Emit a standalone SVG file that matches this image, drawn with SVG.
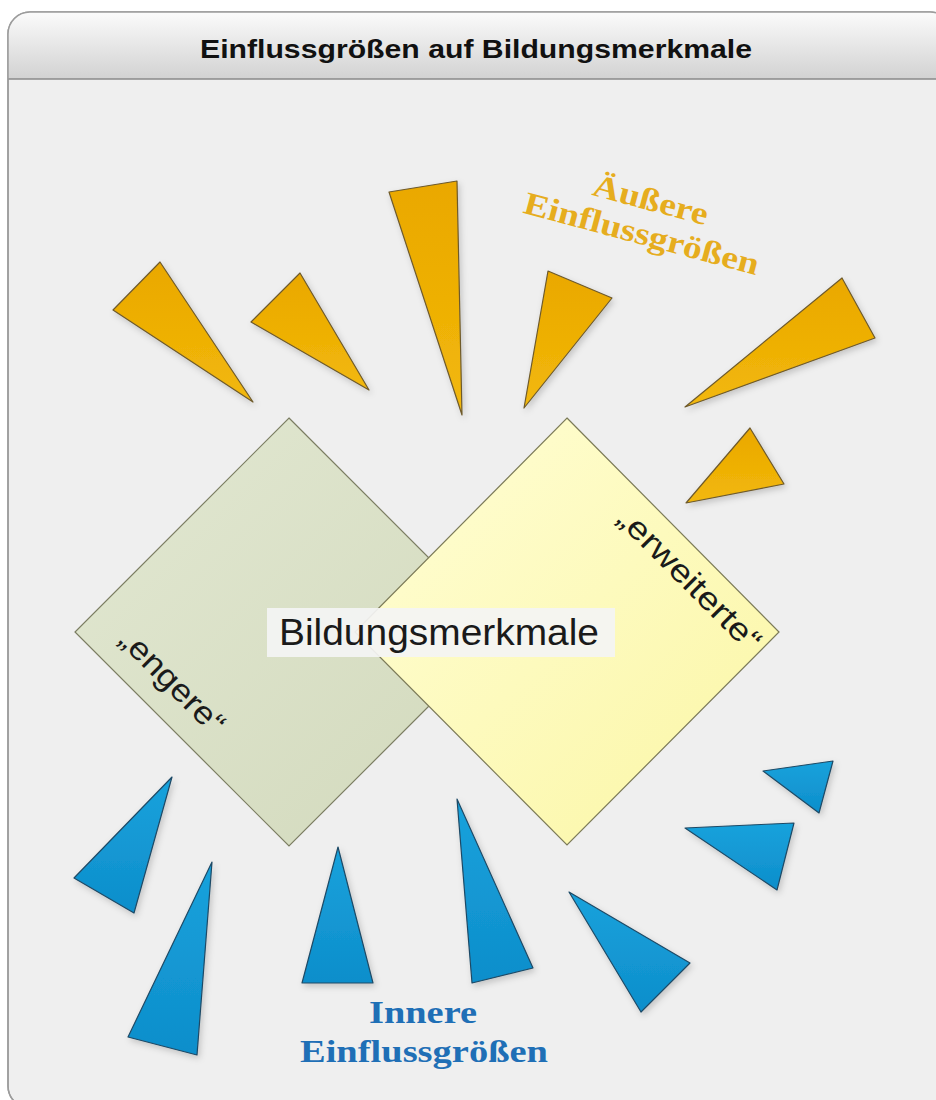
<svg xmlns="http://www.w3.org/2000/svg" width="936" height="1100" viewBox="0 0 936 1100">
  <style>
    .title { font-family: "Liberation Sans", Arial, sans-serif; font-weight: bold; font-size: 26px; fill: #111; }
    .center { font-family: "Liberation Sans", Arial, sans-serif; font-size: 36px; fill: #1a1a1a; }
    .side { font-family: "Liberation Sans", Arial, sans-serif; font-size: 32px; fill: #1a1a1a; }
    .outer { font-family: "Liberation Serif", "Times New Roman", serif; font-weight: bold; font-size: 32px; fill: #e6ad1e; }
    .inner { font-family: "Liberation Serif", "Times New Roman", serif; font-weight: bold; font-size: 32px; fill: #1f6fb6; }
    .tri-o { fill: url(#gOrange); stroke: #6e5a2c; stroke-width: 1.2; stroke-linejoin: round; filter: url(#shadow); }
    .tri-b { fill: url(#gBlue); stroke: #1e4a66; stroke-width: 1.2; stroke-linejoin: round; filter: url(#shadow); }
  </style>
  <defs>
    <linearGradient id="gHeader" x1="0" y1="0" x2="0" y2="1">
      <stop offset="0" stop-color="#fbfbfb"/>
      <stop offset="1" stop-color="#d2d2d2"/>
    </linearGradient>
    <linearGradient id="gGreen" x1="0" y1="0" x2="1" y2="1">
      <stop offset="0" stop-color="#e2e8d2"/>
      <stop offset="1" stop-color="#d2d9bc"/>
    </linearGradient>
    <linearGradient id="gYellow" x1="0" y1="0" x2="1" y2="1">
      <stop offset="0" stop-color="#fffed6"/>
      <stop offset="1" stop-color="#fbf6a4"/>
    </linearGradient>
    <linearGradient id="gOrange" x1="0" y1="0" x2="0" y2="1">
      <stop offset="0" stop-color="#eaa800"/>
      <stop offset="1" stop-color="#f2b80a"/>
    </linearGradient>
    <linearGradient id="gBlue" x1="0" y1="0" x2="0" y2="1">
      <stop offset="0" stop-color="#18a2dc"/>
      <stop offset="1" stop-color="#0e8ecb"/>
    </linearGradient>
    <filter id="shadow" x="-20%" y="-20%" width="140%" height="140%">
      <feDropShadow dx="2" dy="3" stdDeviation="3" flood-color="#000" flood-opacity="0.18"/>
    </filter>
    <clipPath id="frameClip">
      <rect x="8" y="12" width="944" height="1096" rx="22"/>
    </clipPath>
  </defs>

  <!-- page background -->
  <rect x="0" y="0" width="936" height="1100" fill="#ffffff"/>

  <!-- panel with header -->
  <g id="panel">
    <rect x="8" y="12" width="944" height="1096" rx="22" fill="#efefef" stroke="#9c9c9c" stroke-width="1.5"/>
    <g clip-path="url(#frameClip)">
      <rect x="8" y="12" width="944" height="67" fill="url(#gHeader)"/>
    </g>
    <line x1="8" y1="79" x2="936" y2="79" stroke="#8a8a8a" stroke-width="1.5"/>
    <rect x="8" y="12" width="944" height="1096" rx="22" fill="none" stroke="#9c9c9c" stroke-width="1.5"/>
    <text class="title" x="476" y="58" text-anchor="middle" textLength="552" lengthAdjust="spacingAndGlyphs">Einflussgrößen auf Bildungsmerkmale</text>
  </g>

  <!-- two overlapping squares -->
  <g id="engere">
    <polygon points="289,418 503,632 289,846 75,632" fill="url(#gGreen)" stroke="#7b7d62" stroke-width="1.2"/>
    <text class="side" transform="translate(165,689) rotate(45)" text-anchor="middle" textLength="134" lengthAdjust="spacingAndGlyphs">„engere“</text>
  </g>
  <g id="erweiterte">
    <polygon points="567,418 779,632 567,845 355,632" fill="url(#gYellow)" stroke="#7b7a58" stroke-width="1.2"/>
    <text class="side" transform="translate(682,587) rotate(45)" text-anchor="middle" textLength="188" lengthAdjust="spacingAndGlyphs">„erweiterte“</text>
  </g>
  <g id="bildungsmerkmale">
    <rect x="267" y="608" width="348" height="49" fill="#f4f4f4" fill-opacity="0.92"/>
    <text class="center" x="279" y="645" textLength="320" lengthAdjust="spacingAndGlyphs">Bildungsmerkmale</text>
  </g>

  <!-- outer influences -->
  <g id="aeussere">
    <polygon class="tri-o" points="160,262 113,310 253,402"/>
    <polygon class="tri-o" points="300,273 251,322 369,390"/>
    <polygon class="tri-o" points="389,192 457,181 462,415"/>
    <polygon class="tri-o" points="548,271 612,298 524,408"/>
    <polygon class="tri-o" points="842,278 875,338 685,407"/>
    <polygon class="tri-o" points="750,428 784,484 686,503"/>
    <g transform="translate(648,210) rotate(15)">
      <text class="outer" x="0" y="0" text-anchor="middle" textLength="118" lengthAdjust="spacingAndGlyphs">Äußere</text>
      <text class="outer" x="0" y="35" text-anchor="middle" textLength="242" lengthAdjust="spacingAndGlyphs">Einflussgrößen</text>
    </g>
  </g>

  <!-- inner influences -->
  <g id="innere">
    <polygon class="tri-b" points="172,777 74,878 134,913"/>
    <polygon class="tri-b" points="212,862 128,1037 197,1055"/>
    <polygon class="tri-b" points="338,847 302,983 373,983"/>
    <polygon class="tri-b" points="457,799 472,983 533,968"/>
    <polygon class="tri-b" points="569,892 690,963 641,1012"/>
    <polygon class="tri-b" points="685,828 794,823 777,890"/>
    <polygon class="tri-b" points="763,771 833,761 819,813"/>
    <text class="inner" x="423" y="1023" text-anchor="middle" textLength="108" lengthAdjust="spacingAndGlyphs">Innere</text>
    <text class="inner" x="424" y="1062" text-anchor="middle" textLength="248" lengthAdjust="spacingAndGlyphs">Einflussgrößen</text>
  </g>

  <g id="connectors"/>
</svg>
